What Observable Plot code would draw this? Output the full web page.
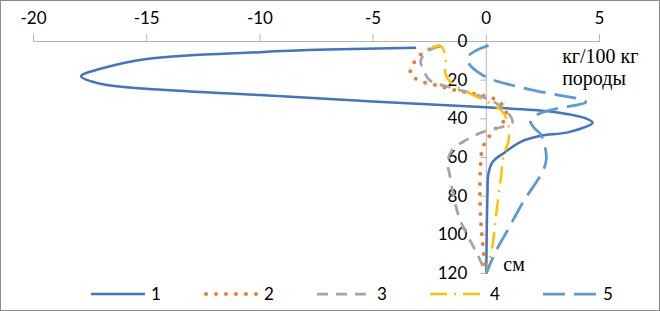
<!DOCTYPE html>
<html>
<head>
<meta charset="utf-8">
<script src="https://cdn.jsdelivr.net/npm/d3@7"></script>
<script src="https://cdn.jsdelivr.net/npm/@observablehq/plot@0.6"></script>
<style>
  body { margin: 0; background: #fff; }
  #chart { position: relative; width: 660px; height: 311px; box-sizing: border-box; border: 1px solid #8c8c8c; background: #fff; font-family: Lato, "Open Sans", sans-serif; overflow: hidden; }
  #chart svg.plot { display: block; }
  .legend-item { position: absolute; top: 285px; height: 16px; display: flex; align-items: center; font-size: 17px; color: #000; }
  .legend-item svg { display: block; }
  .legend-item span { margin-left: 6px; line-height: 16px; }
</style>
</head>
<body>
<div id="chart"></div>
<script>
// ---- data (value in kg/100 kg, depth in cm) ----
const seriesNames = ["1", "2", "3", "4", "5"];
const xTicks = [-20, -15, -10, -5, 0, 5];
const yTicks = [0, 20, 40, 60, 80, 100, 120];

const s1Value = [-3.1, -7, -10, -15, -17, -17.9, -17, -15, -10, -5, 0, 2.9, 4.4, 4.7, 3.6, 2.4, 1.5, 0.8, 0.3, 0.1, 0.05, 0];
const s1Depth = [3.2, 4.2, 5.5, 9, 14, 18, 22, 24.5, 27.7, 31, 34, 36.3, 39.8, 42, 47, 48.8, 52, 57.5, 62, 68, 80, 120];

const s2Value = [-2.1, -2.7, -3.2, -3.35, -3.0, -2.1, -1.2, -0.35, 0.4, 0.85, 0.84, 0.5, 0.2, -0.05, -0.2, -0.26, -0.28, -0.2, 0];
const s2Depth = [2.5, 5, 11, 16.6, 20, 23, 25.6, 27.5, 30, 35, 40, 44, 48, 52, 57, 65, 80, 100, 120];

const s3Value = [-2.1, -2.6, -2.9, -2.8, -2.5, -1.5, -0.6, 0.3, 0.9, 1.15, 0.6, -0.2, -0.9, -1.5, -1.7, -1.6, -1.2, -0.4, 0];
const s3Depth = [2.5, 5, 10, 14, 20, 24, 27, 31, 36, 42, 44.5, 47, 51, 56, 62, 70, 91, 110, 120];

const s4Value = [-2.4, -2.0, -1.8, -1.8, -1.5, -0.8, 0, 0.6, 0.9, 1.0, 0.75, 0.65, 0.45, 0.28, 0];
const s4Depth = [3, 2.5, 8, 17, 22, 26.5, 31, 35, 40, 50, 60, 70, 88, 105, 120];

const s5Value = [0.1, -0.5, -0.85, -0.7, -0.35, 0.2, 1.1, 2.2, 3.3, 4.2, 4.4, 3.9, 3.2, 2.3, 1.95, 2.1, 2.4, 2.6, 2.65, 2.5, 1.63, 0.97, 0.4, 0];
const s5Depth = [2, 5, 8.5, 12.5, 16, 19.5, 22.5, 25.5, 28, 30, 31.5, 33, 34.5, 37.5, 41, 44.5, 48, 55, 61, 67, 83, 97, 109, 120];

const unitLabel = ["кг/100 кг", "породы"];
const depthLabel = "см";

// ---- styles ----
const styles = [
  {color: "#4472C4", width: 2.5, dash: null, cap: "butt"},
  {color: "#ED7D31", width: 4, dash: "0 10", cap: "round"},
  {color: "#A5A5A5", width: 2.75, dash: "11 8", cap: "butt"},
  {color: "#FFC000", width: 2.5, dash: "17 7 2 7", cap: "butt"},
  {color: "#5B9BD5", width: 2.75, dash: "22 9", cap: "butt"}
];
const axisGray = "#b4b4b4";

const valueArrays = [s1Value, s2Value, s3Value, s4Value, s5Value];
const depthArrays = [s1Depth, s2Depth, s3Depth, s4Depth, s5Depth];
const seriesRows = valueArrays.map((vals, i) => vals.map((v, j) => ({series: seriesNames[i], value: v, depth: depthArrays[i][j]})));

const leftTick = {draw(ctx) { ctx.moveTo(-6, 0); ctx.lineTo(0, 0); }};

const lineMarks = seriesRows.map((rows, i) => Plot.line(rows, {
  x: "value", y: "depth", curve: "catmull-rom",
  stroke: styles[i].color, strokeWidth: styles[i].width,
  strokeDasharray: styles[i].dash, strokeLinecap: styles[i].cap, strokeLinejoin: "round"
}));

const serif = "'Liberation Serif', 'Times New Roman', serif";

const chart = Plot.plot({
  width: 658, height: 285,
  marginLeft: 32, marginRight: 60, marginTop: 40, marginBottom: 13,
  style: {fontFamily: "Lato, 'Open Sans', sans-serif", fontSize: "17px", color: "#000", background: "#fff", overflow: "visible"},
  x: {domain: [-20, 5], axis: null},
  y: {domain: [0, 120], reverse: true, axis: null},
  marks: [
    Plot.ruleY([0], {x1: -20, x2: 5, stroke: axisGray, strokeWidth: 1}),
    Plot.axisX(xTicks, {anchor: "top", tickSize: 8, tickPadding: 10, stroke: axisGray, fill: "#000", fontSize: 17, tickFormat: d => String(d), label: null}),
    Plot.ruleX([0], {y1: 0, y2: 120, stroke: axisGray, strokeWidth: 1}),
    Plot.dot(yTicks, {x: () => 0, y: d => d, symbol: leftTick, stroke: axisGray, fill: "none", strokeWidth: 1}),
    Plot.text(yTicks, {x: () => 0, y: d => d, text: d => String(d), dx: -19, textAnchor: "end", fontSize: 17, fill: "#000"}),
    ...lineMarks,
    Plot.text([unitLabel[0]], {x: () => 3.35, y: () => 7.6, text: d => d, textAnchor: "start", fontFamily: serif, fontSize: 20, fill: "#000"}),
    Plot.text([unitLabel[1]], {x: () => 3.35, y: () => 19.2, text: d => d, textAnchor: "start", fontFamily: serif, fontSize: 20, fill: "#000"}),
    Plot.text([depthLabel], {x: () => 0.75, y: () => 115.3, text: d => d, textAnchor: "start", fontFamily: serif, fontSize: 20, fill: "#000"})
  ]
});

const container = document.getElementById("chart");
container.appendChild(chart);

// ---- legend ----
seriesNames.forEach((name, i) => {
  const item = document.createElement("div");
  item.className = "legend-item";
  item.style.left = (90 + i * 113) + "px";
  const svg = d3.create("svg").attr("width", 54).attr("height", 16);
  svg.append("line")
    .attr("x1", i === 1 ? 2 : 0).attr("x2", 54).attr("y1", 8).attr("y2", 8)
    .attr("stroke", styles[i].color).attr("stroke-width", styles[i].width)
    .attr("stroke-dasharray", styles[i].dash).attr("stroke-linecap", styles[i].cap);
  item.appendChild(svg.node());
  const label = document.createElement("span");
  label.textContent = name;
  item.appendChild(label);
  container.appendChild(item);
});
</script>
</body>
</html>
